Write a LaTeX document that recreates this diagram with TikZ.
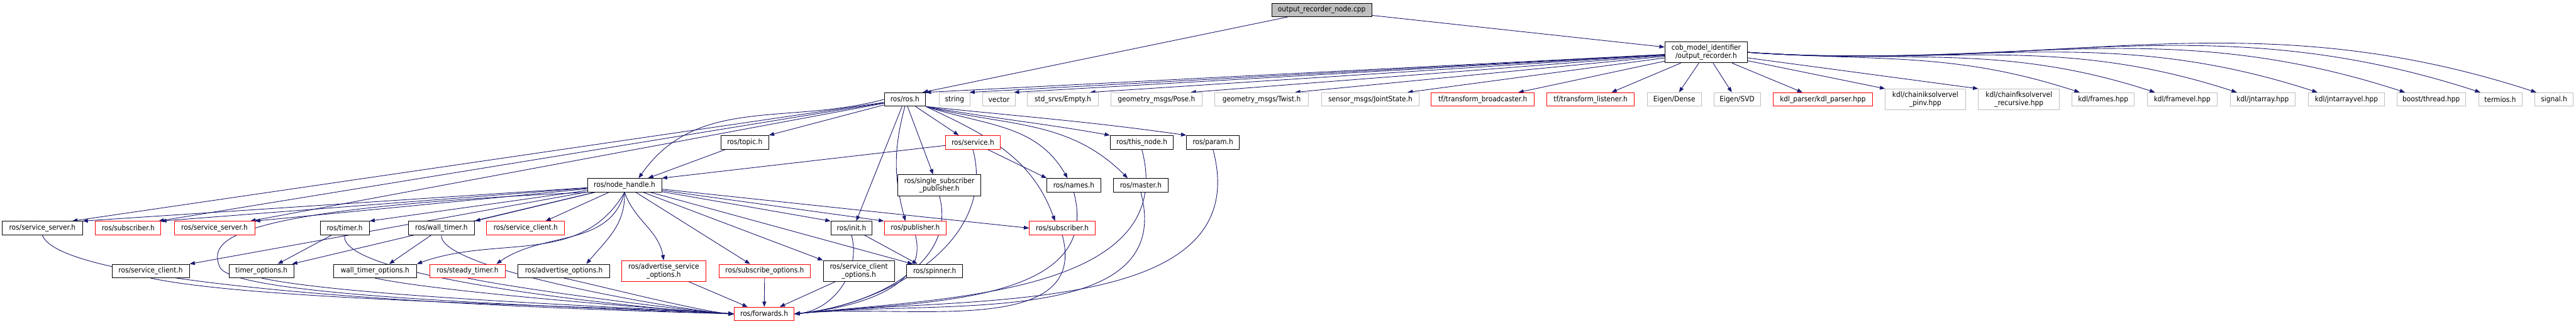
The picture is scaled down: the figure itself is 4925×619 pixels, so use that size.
\documentclass[tikz,border=0pt]{standalone}
\usepackage{fontspec}
\setmainfont{DejaVu Sans}[FakeStretch=0.91]
\usetikzlibrary{positioning,arrows.meta,calc,backgrounds}
\definecolor{depblue}{HTML}{191970}
\definecolor{extgray}{HTML}{BFBFBF}
\definecolor{truncred}{HTML}{FF0000}

\tikzset{
  file/.style={draw=black, line width=0.8pt, fill=white, inner sep=0pt, minimum height=19.5pt,
    align=center, font=\fontsize{10.5}{11.25}\selectfont},
  filered/.style={file, draw=truncred},
  fileext/.style={file, draw=extgray},
  fileroot/.style={file, fill=extgray},
  dbl/.style={minimum height=30pt},
  dep/.style={draw=depblue, line width=0.8pt, -{Triangle[length=7.5pt,width=5.5pt]}},
}

\begin{document}
\begin{tikzpicture}[x=0.75pt,y=-0.75pt]
    \useasboundingbox (0,0) rectangle (4925,619);

    % the file and its own header
    \node[fileroot, minimum width=143.25pt] (root) at (2527,19) {output\_recorder\_node.cpp};
    \node[file, dbl, minimum width=118.5pt] (orec) at (3262,100) {cob\_model\_identifier\\/output\_recorder.h};

    % included by output_recorder.h
    \node[file, minimum width=59.25pt] (ros) at (1730,190) {ros/ros.h};
    \node[fileext, minimum width=43.5pt] (string) at (1825,190) {string};
    \node[fileext, minimum width=46.5pt] (vector) at (1910,190) {vector};
    \node[fileext, minimum width=101.25pt] (empty) at (2032,190) {std\_srvs/Empty.h};
    \node[fileext, minimum width=130.5pt] (pose) at (2211,190) {geometry\_msgs/Pose.h};
    \node[fileext, minimum width=134.25pt] (twist) at (2412,190) {geometry\_msgs/Twist.h};
    \node[fileext, minimum width=140.25pt] (joint) at (2620,190) {sensor\_msgs/JointState.h};
    \node[filered, minimum width=147.75pt] (tfb) at (2835,190) {tf/transform\_broadcaster.h};
    \node[filered, minimum width=125.25pt] (tfl) at (3041,190) {tf/transform\_listener.h};
    \node[fileext, minimum width=77.25pt] (dense) at (3201,190) {Eigen/Dense};
    \node[fileext, minimum width=66.75pt] (svd) at (3321,190) {Eigen/SVD};
    \node[filered, minimum width=143.25pt] (kdlp) at (3485,190) {kdl\_parser/kdl\_parser.hpp};
    \node[fileext, dbl, minimum width=114.75pt] (ik) at (3681,190) {kdl/chainiksolvervel\\\_pinv.hpp};
    \node[fileext, dbl, minimum width=116.25pt] (fk) at (3860,190) {kdl/chainfksolvervel\\\_recursive.hpp};
    \node[fileext, minimum width=89.25pt] (frames) at (4021,190) {kdl/frames.hpp};
    \node[fileext, minimum width=99.75pt] (framevel) at (4172,190) {kdl/framevel.hpp};
    \node[fileext, minimum width=93pt] (jntarray) at (4326,190) {kdl/jntarray.hpp};
    \node[fileext, minimum width=109.5pt] (jntarrayvel) at (4486,190) {kdl/jntarrayvel.hpp};
    \node[fileext, minimum width=98.25pt] (thread) at (4648,190) {boost/thread.hpp};
    \node[fileext, minimum width=62.25pt] (termios) at (4780,190) {termios.h};
    \node[fileext, minimum width=54.75pt] (signal) at (4883,190) {signal.h};

    % ros headers
    \node[file, minimum width=68.25pt] (topic) at (1424,272) {ros/topic.h};
    \node[filered, minimum width=78.75pt] (service) at (1860,272) {ros/service.h};
    \node[file, minimum width=90.75pt] (thisnode) at (2183,272) {ros/this\_node.h};
    \node[file, minimum width=75.75pt] (param) at (2319,272) {ros/param.h};

    \node[file, minimum width=106.5pt] (nh) at (1194,354) {ros/node\_handle.h};
    \node[file, dbl, minimum width=119.25pt] (ssp) at (1796,354) {ros/single\_subscriber\\\_publisher.h};
    \node[file, minimum width=77.25pt] (names) at (2053,354) {ros/names.h};
    \node[file, minimum width=78.75pt] (master) at (2181,354) {ros/master.h};

    \node[file, minimum width=114.75pt] (srvsrv) at (81,436) {ros/service\_server.h};
    \node[filered, minimum width=93.75pt] (subl) at (245,436) {ros/subscriber.h};
    \node[filered, minimum width=115.5pt] (srvsrvr) at (410,436) {ros/service\_server.h};
    \node[file, minimum width=70.5pt] (timer) at (659,436) {ros/timer.h};
    \node[file, minimum width=95.25pt] (walltimer) at (844,436) {ros/wall\_timer.h};
    \node[filered, minimum width=111.75pt] (srvclir) at (1005,436) {ros/service\_client.h};
    \node[file, minimum width=59.25pt] (init) at (1628,436) {ros/init.h};
    \node[filered, minimum width=89.25pt] (pub) at (1750,436) {ros/publisher.h};
    \node[filered, minimum width=94.5pt] (subr) at (2031,436) {ros/subscriber.h};

    \node[file, minimum width=111pt] (srvcli) at (288,518) {ros/service\_client.h};
    \node[file, minimum width=93pt] (timeropt) at (500,518) {timer\_options.h};
    \node[file, minimum width=119.25pt] (wallopt) at (717,518) {wall\_timer\_options.h};
    \node[filered, minimum width=108pt] (steady) at (894,518) {ros/steady\_timer.h};
    \node[file, minimum width=131.25pt] (advopt) at (1078,518) {ros/advertise\_options.h};
    \node[filered, dbl, minimum width=120.75pt] (advsrvopt) at (1269,518) {ros/advertise\_service\\\_options.h};
    \node[filered, minimum width=130.5pt] (subopt) at (1462,518) {ros/subscribe\_options.h};
    \node[file, dbl, minimum width=102pt] (clientopt) at (1642,518) {ros/service\_client\\\_options.h};
    \node[file, minimum width=80.25pt] (spinner) at (1787,518) {ros/spinner.h};

    \node[filered, minimum width=86.25pt] (fwd) at (1461,600) {ros/forwards.h};

    \begin{scope}[on background layer]
    \fill[white] (0,0) rectangle (4925,619);

    % includes of the file
    \draw[dep] (root) -- ($(ros.north east)+(-6,0)$);
    \draw[dep] (root) -- ($(orec.west)+(0,-10)$);

    % includes of output_recorder.h
    \draw[dep] (orec) -- (ros.north east);
    \foreach \t/\o in {string/-1,vector/-3,empty/-16,pose/-22,twist/-26,joint/-23,tfb/-31,tfl/-44}
        \draw[dep] (orec) -- ($(\t.north east)+(\o,0)$);
    \foreach \t/\o in {dense/9,svd/-10,kdlp/-39}
        \draw[dep] (orec) -- ($(\t.north)+(\o,0)$);
    \foreach \t in {ik,fk}
        \draw[dep] (orec) -- (\t.north west);
    \foreach \t/\o/\l in {frames/15/190pt,framevel/15/230pt,jntarray/13/275pt,jntarrayvel/18/320pt,
                          thread/16/370pt,termios/4/410pt,signal/3/440pt}
        \draw[dep] (orec.east) .. controls +(-4:\l) and +(162:\l) .. ($(\t.north west)+(\o,0)$);

    % includes of ros.h
    \draw[dep] (ros) -- ($(srvsrv.north)+(57,0)$);
    \draw[dep] (ros) -- ($(subl.north east)+(-5,0)$);
    \draw[dep] (ros) -- ($(srvsrvr.north east)+(-9,0)$);
    \draw[dep] (ros.west) .. controls +(195:145pt) and +(55:145pt) .. ($(nh.north)+(27,0)$);
    \draw[dep] (ros) -- (topic.north east);
    \draw[dep] (ros) -- ($(service.north)+(-27,0)$);
    \draw[dep] (ros) -- ($(ssp.north)+(-12,0)$);
    \draw[dep] (ros) -- ($(init.north)+(9,0)$);
    \draw[dep] (ros.south) .. controls +(-105:64pt) and +(105:64pt) .. ($(pub.north)+(-19,0)$);
    \draw[dep] (ros.south east) .. controls +(-25:97pt) and +(110:97pt) .. ($(subr.north)+(-14,0)$);
    \draw[dep] (ros.south east) .. controls +(-18:90pt) and +(120:90pt) .. ($(names.north)+(-12,0)$);
    \draw[dep] (ros.south east) .. controls +(-14:120pt) and +(135:120pt) .. ($(master.north)+(-25,0)$);
    \draw[dep] (ros.south east) .. controls +(-10:105pt) and +(170:105pt) .. (thisnode.north west);
    \draw[dep] (ros.south east) .. controls +(-6:147pt) and +(172:147pt) .. (param.north west);

    \draw[dep] (topic) -- ($(nh.north)+(45,0)$);
    \draw[dep] (service) -- (nh.north east);
    \draw[dep] (service) -- (names.north west);

    % includes of node_handle.h
    \foreach \t in {srvsrv,subl,srvsrvr,timer,walltimer}
        \draw[dep] (nh) -- (\t.north east);
    \draw[dep] (nh) -- ($(srvclir.north)+(38,0)$);
    \draw[dep] (nh) -- (srvcli.north east);
    \draw[dep] (nh) -- ($(timeropt.north east)+(-4,0)$);
    \draw[dep] (nh.south) .. controls +(-120:123pt) and +(20:123pt) .. (wallopt.north east);
    \draw[dep] (nh.south) .. controls +(-105:82pt) and +(35:82pt) .. ($(steady.north)+(55,0)$);
    \draw[dep] (nh.south) .. controls +(-88:46pt) and +(50:46pt) .. ($(advopt.north)+(43,0)$);
    \draw[dep] (nh.south) .. controls +(-70:44pt) and +(100:44pt) .. (advsrvopt.north);
    \draw[dep] (nh) -- ($(subopt.north)+(-28,0)$);
    \draw[dep] (nh) -- (clientopt.north west);
    \draw[dep] (nh) -- ($(spinner.north west)+(12,0)$);
    \draw[dep] (nh) -- (init.north west);
    \draw[dep] (nh) -- (pub.north west);
    \draw[dep] (nh) -- (subr.west);

    \draw[dep] (timer) -- ($(timeropt.north)+(31,0)$);
    \draw[dep] (walltimer) -- ($(wallopt.north)+(27,0)$);
    \draw[dep] (init) -- ($(spinner.north west)+(21,0)$);

    % everything ends in forwards.h
    \draw[dep] (nh.south west) .. controls (420,400) and (400,460) .. (420,510)
        .. controls (440,560) and (900,580) .. (fwd.west);
    \draw[dep] (srvsrv.south) .. controls +(-70:97pt) and +(178:97pt) .. (fwd.west);
    \draw[dep] (timer.south) .. controls +(-100:67pt) and +(178:67pt) .. (fwd.west);
    \draw[dep] (walltimer.south) .. controls +(-95:51pt) and +(178:51pt) .. (fwd.west);
    \foreach \t/\l in {srvcli/164pt,timeropt/133pt,wallopt/101pt,steady/75pt,advopt/49pt}
        \draw[dep] (\t.south) .. controls +(-12:\l) and +(176:\l) .. (fwd.west);
    \foreach \t in {advsrvopt,subopt,clientopt}
        \draw[dep] (\t) -- (fwd);
    \foreach \t/\l in {init/55pt,pub/81pt,ssp/105pt,service/136pt,subr/156pt,names/170pt,
                       master/205pt,thisnode/215pt,param/250pt}
        \draw[dep] (\t.south) .. controls +(-75:\l) and +(6:\l) .. (fwd.east);
    \end{scope}
\end{tikzpicture}
\end{document}
